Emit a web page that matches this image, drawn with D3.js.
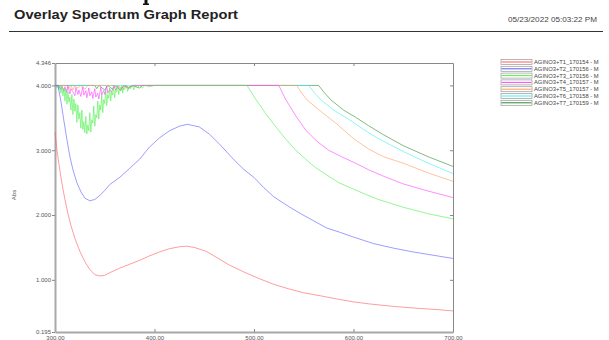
<!DOCTYPE html>
<html>
<head>
<meta charset="utf-8">
<script src="https://cdn.jsdelivr.net/npm/d3@7"></script>
<style>
  body { margin: 0; background: #fff; }
  svg { display: block; }
  text { font-family: "Liberation Sans", Arial, sans-serif; }
</style>
</head>
<body>
<svg id="chart" width="609" height="340"></svg>
<script>
// ── Data (wavelength nm, absorbance) ──────────────────────────────────────────

const yTicks = [0.195, 1, 2, 3, 4, 4.346];
const xTicks = [300, 400, 500, 600, 700];

const seriesNames = [
  'AGINO3+T1_170154 - M', 'AGINO3+T2_170156 - M', 'AGINO3+T3_170156 - M',
  'AGINO3+T4_170157 - M', 'AGINO3+T5_170157 - M', 'AGINO3+T6_170158 - M',
  'AGINO3+T7_170159 - M'
];
const seriesColors = ['#ff5a5a', '#5a5aff', '#4df04d', '#ff40ff', '#ff9a5a', '#40f0f0', '#2e8b2e'];

const t1 = [[300,3.28],[302,3.0],[304,2.78],[306,2.58],[308,2.4],[310,2.24],[313,2.02],[316,1.84],
  [320,1.64],[325,1.44],[330,1.28],[335,1.16],[340,1.08],[345,1.06],[350,1.07],[355,1.11],[365,1.18],
  [375,1.24],[385,1.3],[395,1.37],[405,1.43],[415,1.48],[425,1.51],[432,1.52],[440,1.5],[452,1.44],
  [463,1.34],[475,1.23],[490,1.12],[505,1.02],[520,0.93],[535,0.86],[550,0.8],[568,0.75],[585,0.7],
  [600,0.66],[615,0.63],[640,0.59],[665,0.56],[685,0.54],[700,0.52]];

const t2 = [[300,4.0],[303,4.0],[306,3.75],[309,3.45],[312,3.16],[315,2.9],[318,2.7],[322,2.5],
  [326,2.36],[330,2.26],[335,2.22],[340,2.24],[345,2.3],[350,2.38],[355,2.47],[365,2.58],[375,2.72],
  [385,2.86],[395,3.05],[405,3.19],[415,3.3],[425,3.37],[433,3.4],[445,3.36],[455,3.25],[465,3.1],
  [480,2.85],[490,2.7],[500,2.58],[510,2.42],[520,2.28],[535,2.13],[547,2.02],[560,1.91],[573,1.8],
  [587,1.73],[600,1.66],[620,1.56],[640,1.49],[660,1.43],[680,1.38],[700,1.33]];

const t3 = [[300,4.0],[301,4.0],[302,3.97],[303,4.0],[304,3.93],[305,4.0],[306,3.88],[307,3.98],
  [308,3.84],[309,3.96],[310,3.76],[311,3.95],[312,3.71],[313,3.9],[314,3.74],[315,3.82],[316,3.62],
  [317,3.86],[318,3.55],[319,3.79],[320,3.6],[321,3.72],[322,3.43],[323,3.7],[324,3.48],[325,3.58],
  [326,3.34],[327,3.62],[328,3.32],[329,3.44],[330,3.27],[331,3.52],[332,3.25],[333,3.39],[334,3.3],
  [335,3.58],[336,3.28],[337,3.47],[338,3.42],[339,3.68],[340,3.37],[341,3.55],[342,3.5],[343,3.76],
  [344,3.48],[345,3.7],[346,3.62],[347,3.85],[348,3.58],[349,3.78],[350,3.72],[351,3.92],[352,3.69],
  [353,3.86],[354,3.8],[355,3.96],[356,3.76],[357,3.9],[358,3.85],[359,3.98],[360,3.81],[361,3.94],
  [362,3.9],[363,4.0],[364,3.86],[365,3.95],[366,3.92],[367,4.0],[368,3.88],[369,3.97],[370,3.94],
  [372,4.0],[373,3.91],[375,3.99],[376,3.95],[378,4.0],[379,3.93],[381,4.0],[383,3.97],[385,4.0],
  [388,3.96],[390,4.0],[395,3.98],[400,4.0],[493,4.0],[497,3.9],[502,3.78],[512,3.56],[522,3.36],
  [532,3.17],[542,3.0],[552,2.86],[562,2.73],[573,2.62],[585,2.5],[600,2.4],[612,2.32],[625,2.24],
  [650,2.12],[675,2.02],[700,1.94]];

const t4 = [[300,4.0],[302,3.97],[304,4.0],[306,3.94],[307,3.99],[309,3.91],[310,3.98],[312,3.89],
  [313,4.0],[315,3.87],[316,3.95],[318,3.9],[320,3.84],[321,3.97],[323,3.86],[324,3.93],[326,3.83],
  [328,3.98],[329,3.85],[331,3.92],[332,3.81],[334,3.96],[335,3.84],[337,3.9],[338,3.8],[340,3.95],
  [341,3.82],[343,3.88],[344,3.79],[346,3.97],[347,3.85],[349,3.92],[350,3.86],[352,3.99],[353,3.88],
  [355,3.94],[357,3.9],[359,4.0],[361,3.93],[363,3.98],[366,3.95],[370,4.0],[374,3.97],[378,4.0],
  [525,4.0],[528,3.9],[532,3.78],[542,3.53],[552,3.31],[563,3.14],[575,3.0],[588,2.9],[602,2.8],
  [615,2.7],[630,2.6],[650,2.48],[675,2.37],[700,2.27]];

const t5 = [[300,4.0],[312,4.0],[314,3.95],[316,4.0],[318,3.93],[320,4.0],[323,3.96],[326,4.0],
  [330,3.94],[333,4.0],[360,4.0],[362,3.95],[364,4.0],[368,3.93],[371,4.0],[375,3.96],[378,4.0],
  [543,4.0],[547,3.9],[553,3.78],[567,3.6],[582,3.42],[600,3.18],[615,3.02],[630,2.9],[650,2.8],
  [675,2.65],[700,2.52]];

const t6 = [[300,3.97],[302,4.0],[304,3.96],[306,4.0],[555,4.0],[560,3.9],[567,3.78],[580,3.62],
  [595,3.48],[610,3.32],[625,3.18],[650,2.98],[675,2.8],[700,2.64]];

const t7 = [[300,4.0],[340,4.0],[342,3.95],[344,4.0],[350,3.93],[353,4.0],[358,3.94],[361,4.0],
  [366,3.92],[369,4.0],[374,3.95],[377,4.0],[385,3.96],[388,4.0],[565,4.0],[570,3.9],[577,3.78],
  [590,3.62],[603,3.5],[615,3.38],[630,3.24],[650,3.07],[675,2.9],[700,2.75]];

const allSeries = [t1, t2, t3, t4, t5, t6, t7];

// ── Layout ────────────────────────────────────────────────────────────────────

const svg = d3.select('#chart');
const plot = { left: 55, right: 453, top: 63, bottom: 332 };

const x = d3.scaleLinear().domain([300, 700]).range([plot.left, plot.right]);
const y = d3.scaleLinear().domain([0.195, 4.346]).range([plot.bottom, plot.top]);

// Header: the foot of a cropped glyph above the title, then title, date, rule
svg.append('path')
  .attr('d', 'M144.5,0 h3 v3.5 h1.5 v1.5 h-6 v-1.5 h1.5 z')
  .attr('fill', '#111');

svg.append('text')
  .attr('x', 14).attr('y', 19)
  .attr('textLength', 224).attr('lengthAdjust', 'spacingAndGlyphs')
  .style('font-weight', 'bold').style('font-size', '12px')
  .attr('fill', '#222')
  .text('Overlay Spectrum Graph Report');

svg.append('text')
  .attr('x', 597).attr('y', 22)
  .attr('text-anchor', 'end')
  .attr('textLength', 89).attr('lengthAdjust', 'spacingAndGlyphs')
  .style('font-size', '6.5px')
  .attr('fill', '#444')
  .text('05/23/2022 05:03:22 PM');

svg.append('line')
  .attr('x1', 9).attr('x2', 603).attr('y1', 31.5).attr('y2', 31.5)
  .attr('stroke', '#333').attr('stroke-width', 1);

// ── Frame and axes ────────────────────────────────────────────────────────────

function styleAxis(g, color, width) {
  g.select('.domain').attr('stroke', color).attr('stroke-width', width);
  g.selectAll('.tick line').attr('stroke', '#888');
  g.selectAll('.tick text').attr('fill', '#555').style('font-size', '6px')
    .style('font-family', '"Liberation Sans", Arial, sans-serif');
}

svg.append('g')
  .attr('transform', `translate(0,${plot.top})`)
  .call(d3.axisTop(x).tickValues([400, 500, 600]).tickSize(-3).tickFormat('').tickSizeOuter(0))
  .call(g => styleAxis(g, '#888', 1));

svg.append('g')
  .attr('transform', `translate(${plot.right},0)`)
  .call(d3.axisRight(y).tickValues([1, 2, 3, 4]).tickSize(-3).tickFormat('').tickSizeOuter(0))
  .call(g => styleAxis(g, '#888', 1));

svg.append('g')
  .attr('transform', `translate(0,${plot.bottom})`)
  .call(d3.axisBottom(x).tickValues(xTicks).tickSize(-3).tickPadding(4)
    .tickFormat(d3.format('.2f')).tickSizeOuter(0))
  .call(g => styleAxis(g, '#a8a8a8', 2));

svg.append('g')
  .attr('transform', `translate(${plot.left},0)`)
  .call(d3.axisLeft(y).tickValues(yTicks).tickSize(3).tickPadding(1)
    .tickFormat(d3.format('.3f')).tickSizeOuter(0))
  .call(g => styleAxis(g, '#a8a8a8', 2));

svg.append('text')
  .attr('transform', 'translate(16,195) rotate(-90)')
  .attr('text-anchor', 'middle')
  .style('font-size', '6px').attr('fill', '#555')
  .text('Abs');

// ── Curves ────────────────────────────────────────────────────────────────────

const line = d3.line().x(d => x(d[0])).y(d => y(d[1]));

svg.append('g')
  .selectAll('path')
  .data(allSeries.slice().reverse())
  .enter().append('path')
    .attr('d', line)
    .attr('fill', 'none')
    .attr('stroke', (d, i) => seriesColors[allSeries.length - 1 - i])
    .attr('stroke-width', 0.8)
    .attr('stroke-opacity', 0.75);

// ── Legend ────────────────────────────────────────────────────────────────────

const legend = svg.append('g')
  .selectAll('g')
  .data(seriesNames)
  .enter().append('g')
    .attr('transform', (d, i) => `translate(501,${62 + i * 6.8})`);

legend.append('rect')
  .attr('x', 0).attr('y', -2.5).attr('width', 31).attr('height', 5)
  .attr('fill', '#fff').attr('stroke', '#999').attr('stroke-width', 0.7);

legend.append('line')
  .attr('x1', 0.5).attr('x2', 30.5).attr('y1', 0).attr('y2', 0)
  .attr('stroke', (d, i) => seriesColors[i]).attr('stroke-width', 1);

legend.append('text')
  .attr('x', 33).attr('y', 2)
  .style('font-size', '5.8px').attr('fill', '#444')
  .text(d => d);
</script>
</body>
</html>
